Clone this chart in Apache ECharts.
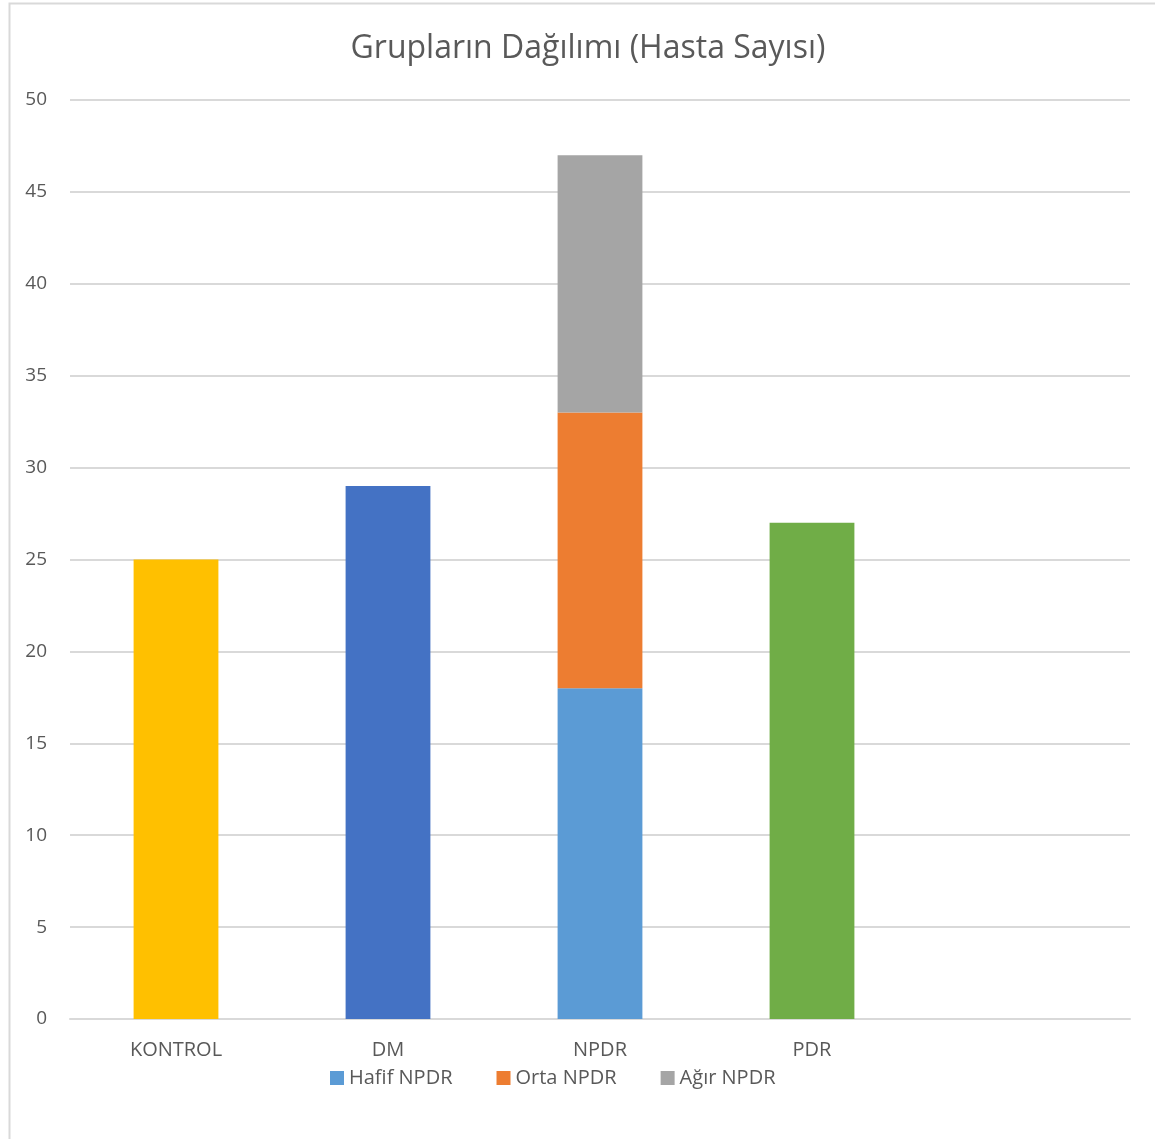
<!DOCTYPE html>
<html>
<head>
<meta charset="utf-8">
<script src="https://cdn.jsdelivr.net/npm/echarts@6/dist/echarts.min.js"></script>
<style>
  html, body { margin: 0; padding: 0; background: #fff; }
  #chart { width: 1155px; height: 1139px; }
</style>
</head>
<body>
<div id="chart"></div>
<script>
// Group names along the x axis (last slot left empty)
const categories = ['KONTROL', 'DM', 'NPDR', 'PDR', ''];

// Patient counts per group
const kontrolValues = [25, '-', '-', '-', '-'];
const dmValues      = ['-', 29, '-', '-', '-'];
const hafifValues   = ['-', '-', 18, '-', '-'];
const ortaValues    = ['-', '-', 15, '-', '-'];
const agirValues    = ['-', '-', 14, '-', '-'];
const pdrValues     = ['-', '-', '-', 27, '-'];

const yTicks = { min: 0, max: 50, interval: 5 };

const FONT = 'Open Sans';
const TEXT = '#595959';
const GRID = '#d9d9d9';

const chart = echarts.init(document.getElementById('chart'));

function barSeries(name, data, color) {
  return {
    name: name,
    type: 'bar',
    stack: 'total',
    data: data,
    barWidth: '40%',
    itemStyle: { color: color },
    emphasis: { disabled: true }
  };
}

chart.setOption({
  animation: false,
  backgroundColor: '#fff',
  textStyle: { fontFamily: FONT },
  graphic: [{
    type: 'rect',
    left: 7, top: 1,
    shape: { width: 1200, height: 1200 },
    style: { fill: 'none', stroke: GRID, lineWidth: 2 },
    silent: true
  }],
  title: {
    text: 'Grupların Dağılımı (Hasta Sayısı)',
    left: 583,
    textAlign: 'center',
    top: 28,
    textStyle: { fontFamily: FONT, fontSize: 32, fontWeight: 'normal', color: TEXT }
  },
  legend: {
    data: ['Hafif NPDR', 'Orta NPDR', 'Ağır NPDR'],
    bottom: 46,
    left: 325,
    itemWidth: 14,
    itemHeight: 14,
    itemGap: 44,
    icon: 'rect',
    textStyle: { fontFamily: FONT, fontSize: 20, color: TEXT }
  },
  grid: { left: 70, right: 25, top: 100, bottom: 120, containLabel: false },
  xAxis: {
    type: 'category',
    data: categories,
    axisLine: { lineStyle: { color: GRID, width: 2 } },
    axisTick: { show: false },
    axisLabel: { color: TEXT, fontSize: 20, fontFamily: FONT, margin: 21 }
  },
  yAxis: {
    type: 'value',
    min: yTicks.min, max: yTicks.max, interval: yTicks.interval,
    axisLine: { show: false },
    axisTick: { show: false },
    splitLine: { lineStyle: { color: GRID, width: 2 } },
    axisLabel: { color: TEXT, fontSize: 19, fontFamily: FONT, margin: 23 }
  },
  series: [
    barSeries('KONTROL', kontrolValues, '#FFC000'),
    barSeries('DM', dmValues, '#4472C4'),
    barSeries('Hafif NPDR', hafifValues, '#5B9BD5'),
    barSeries('Orta NPDR', ortaValues, '#ED7D31'),
    barSeries('Ağır NPDR', agirValues, '#A5A5A5'),
    barSeries('PDR', pdrValues, '#70AD47')
  ]
});
</script>
</body>
</html>
